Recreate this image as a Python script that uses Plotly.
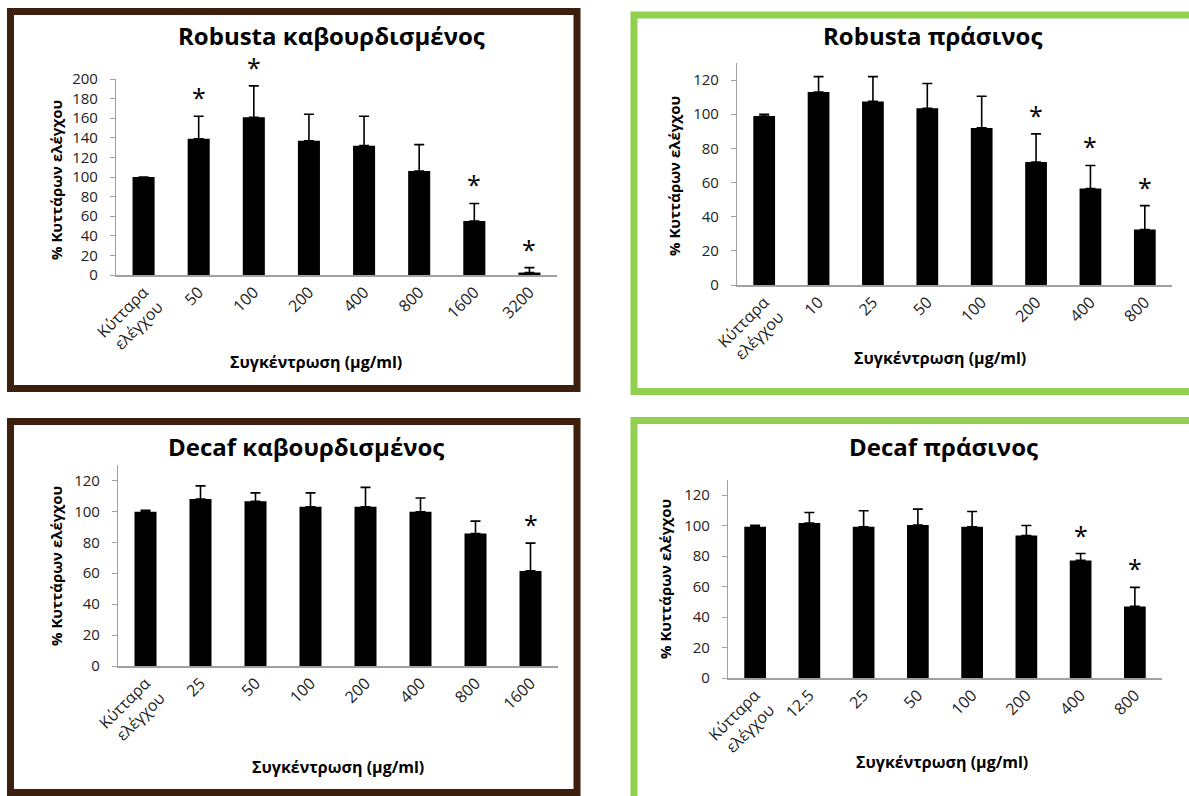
import plotly.graph_objects as go

# ---------------- data ----------------
CTRL = "Κύτταρα<br>ελέγχου"

# Robusta καβουρδισμένος
cats_rr = [CTRL, "50", "100", "200", "400", "800", "1600", "3200"]
mean_rr = [100, 139, 161, 137, 132, 106, 55, 2.5]
sd_rr = [0, 23, 32, 27, 30, 27, 18, 5]
sig_rr = [0, 1, 1, 0, 0, 0, 1, 1]

# Robusta πράσινος
cats_rg = [CTRL, "10", "25", "50", "100", "200", "400", "800"]
mean_rg = [99, 113, 107.5, 103.5, 92, 72, 56.5, 32.5]
sd_rg = [1, 9, 14.5, 14.5, 18.5, 16.5, 13.5, 14]
sig_rg = [0, 0, 0, 0, 0, 1, 1, 1]

# Decaf καβουρδισμένος
cats_dr = [CTRL, "25", "50", "100", "200", "400", "800", "1600"]
mean_dr = [99.7, 108, 106.5, 103, 103, 99.7, 85.7, 61.5]
sd_dr = [1, 8.5, 5.5, 9, 12.5, 9, 8, 18]
sig_dr = [0, 0, 0, 0, 0, 0, 0, 1]

# Decaf πράσινος
cats_dg = [CTRL, "12.5", "25", "50", "100", "200", "400", "800"]
mean_dg = [99.3, 101.7, 99.3, 100.4, 99.3, 93.6, 77.2, 47]
sd_dg = [1, 7, 10.5, 10.5, 10, 6.5, 4.5, 12.5]
sig_dg = [0, 0, 0, 0, 0, 0, 1, 1]

titles = ["Robusta καβουρδισμένος", "Robusta πράσινος",
          "Decaf καβουρδισμένος", "Decaf πράσινος"]
y_title = "% Κυττάρων ελέγχου"
x_title = "Συγκέντρωση (μg/ml)"
y_max = [200, 130, 130, 130]

# ---------------- layout (pixels) ----------------
W, H = 1189, 796
FONT = "Open Sans"
BROWN = "#3d1f0d"
GREEN = "#92d050"
AXIS = "#a0a0a0"

def px(x):
    return x / W

def py(y):
    return 1 - y / H

panels = [
    dict(cats=cats_rr, mean=mean_rr, sd=sd_rr, sig=sig_rr,
         xd=(116, 557), yd=(79, 275), frame=(10.5, 11.5, 577, 388.5), col=BROWN,
         title=(331, 35), ytitle=(56, 180), xtitle=(316, 362)),
    dict(cats=cats_rg, mean=mean_rg, sd=sd_rg, sig=sig_rg,
         xd=(737, 1172), yd=(63, 285), frame=(634, 15, 1195, 391.5), col=GREEN,
         title=(932, 35), ytitle=(674, 176), xtitle=(940, 358)),
    dict(cats=cats_dr, mean=mean_dr, sd=sd_dr, sig=sig_dr,
         xd=(118, 558), yd=(465, 666), frame=(10.5, 421.5, 577, 792.5), col=BROWN,
         title=(306, 446), ytitle=(56, 566), xtitle=(338, 767)),
    dict(cats=cats_dg, mean=mean_dg, sd=sd_dg, sig=sig_dg,
         xd=(728, 1162), yd=(480, 678), frame=(634, 420.5, 1195, 800), col=GREEN,
         title=(943, 446), ytitle=(665, 579), xtitle=(942, 762)),
]

fig = go.Figure()
annotations = []
shapes = []

for i, p in enumerate(panels):
    n = "" if i == 0 else str(i + 1)
    xa, ya = "x" + n, "y" + n
    fig.add_trace(go.Bar(
        x=p["cats"], y=p["mean"], xaxis=xa, yaxis=ya,
        marker=dict(color="black", line=dict(width=0)),
        error_y=dict(type="data", array=p["sd"], arrayminus=[0] * len(p["sd"]),
                     symmetric=False, color="black", thickness=1.6, width=5,
                     visible=True),
        showlegend=False, hoverinfo="x+y",
    ))
    fig.layout["xaxis" + n] = dict(
        domain=[px(p["xd"][0]), px(p["xd"][1])], anchor=ya, type="category",
        range=[-0.5, len(p["cats"]) - 0.5], automargin=False,
        showline=True, linecolor=AXIS, linewidth=1.5, ticks="", tickangle=-45,
        tickfont=dict(family=FONT, size=16, color="#222"), showgrid=False,
        zeroline=False, fixedrange=True,
    )
    fig.layout["yaxis" + n] = dict(
        domain=[py(p["yd"][1]), py(p["yd"][0])], anchor=xa,
        range=[0, y_max[i]], dtick=20, tick0=0, automargin=False,
        showline=True, linecolor=AXIS, linewidth=1.2, ticks="outside",
        ticklen=5, tickcolor=AXIS, tickwidth=1.2, ticklabelstandoff=9,
        tickfont=dict(family=FONT, size=15, color="#222"), showgrid=False,
        zeroline=False, fixedrange=True,
    )
    # significance stars (x given as category index)
    for k, (m, s, g) in enumerate(zip(p["mean"], p["sd"], p["sig"])):
        if g:
            annotations.append(dict(
                x=k, y=m + s, xref=xa, yref=ya, text="*", showarrow=False,
                yanchor="bottom", yshift=0,
                font=dict(family=FONT, size=25, color="black"),
            ))
    # frame
    x0, y0, x1, y1 = p["frame"]
    shapes.append(dict(type="rect", xref="paper", yref="paper",
                       x0=px(x0), x1=px(x1), y0=py(y1), y1=py(y0),
                       line=dict(color=p["col"], width=7), fillcolor="rgba(0,0,0,0)"))
    # titles
    annotations.append(dict(x=px(p["title"][0]), y=py(p["title"][1]), xref="paper",
                            yref="paper", text="<b>" + titles[i] + "</b>",
                            showarrow=False, xanchor="center", yanchor="middle",
                            font=dict(family=FONT, size=24, color="black")))
    annotations.append(dict(x=px(p["ytitle"][0]), y=py(p["ytitle"][1]), xref="paper",
                            yref="paper", text="<b>" + y_title + "</b>", textangle=-90,
                            showarrow=False, xanchor="center", yanchor="middle",
                            font=dict(family=FONT, size=15, color="black")))
    annotations.append(dict(x=px(p["xtitle"][0]), y=py(p["xtitle"][1]), xref="paper",
                            yref="paper", text="<b>" + x_title + "</b>",
                            showarrow=False, xanchor="center", yanchor="middle",
                            font=dict(family=FONT, size=16, color="black")))

fig.update_layout(
    width=W, height=H, autosize=False,
    margin=dict(l=0, r=0, t=0, b=0, pad=0, autoexpand=False),
    paper_bgcolor="white", plot_bgcolor="white",
    bargap=0.6, annotations=annotations, shapes=shapes,
    font=dict(family=FONT),
)

fig.write_html("out.html",
               config={"displayModeBar": False},
               post_script="document.body.style.margin='0px';"
                           "document.body.style.overflow='hidden';")
